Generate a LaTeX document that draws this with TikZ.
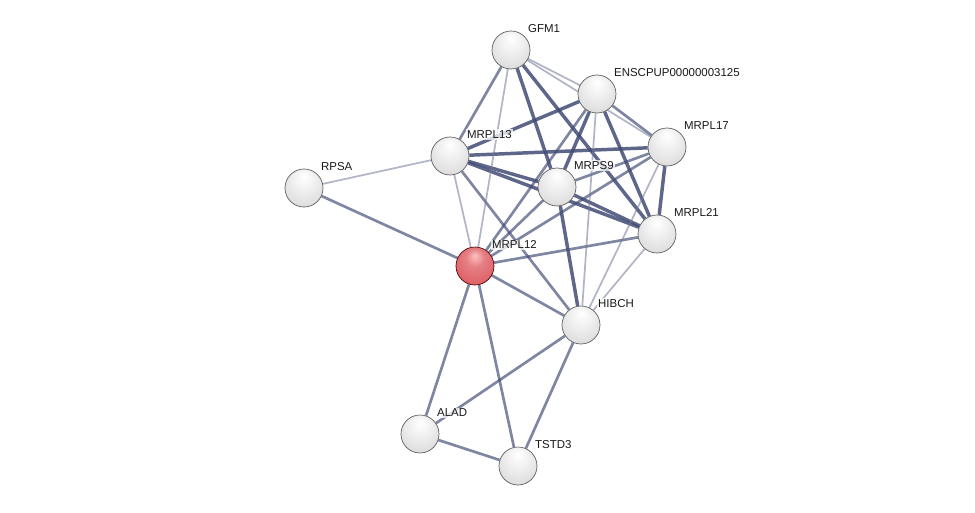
\documentclass[tikz,border=0pt]{standalone}
\usepackage{fontspec}
\setmainfont{Liberation Sans}
\usetikzlibrary{backgrounds}

\definecolor{linkcol}{RGB}{66,76,116}
\definecolor{qred}{RGB}{222,96,102}

% glossy protein balls
\pgfdeclareradialshading{protball}{\pgfpoint{0bp}{16bp}}{%
  color(0bp)=(white); color(10bp)=(white!96!black);
  color(28bp)=(gray!24); color(42bp)=(gray!42); color(50bp)=(gray!62)}
\pgfdeclareradialshading{queryball}{\pgfpoint{0bp}{14bp}}{%
  color(0bp)=(red!25!white); color(12bp)=(qred!80!white);
  color(30bp)=(qred); color(44bp)=(qred!85!black); color(50bp)=(qred!55!black)}

\tikzset{
  prot/.style={circle, minimum size=28.5pt, inner sep=0,
               draw=gray!70!black, line width=0.5pt, shading=protball},
  query prot/.style={prot, shading=queryball, draw=red!30!black},
  plbl/.style={font=\fontsize{8.6}{10}\selectfont, text=black!90,
               fill=white, fill opacity=0.75, text opacity=1,
               inner sep=1pt, label distance=2pt},
  strong link/.style={line width=2.6pt, draw=linkcol, draw opacity=0.85},
  mid link/.style={line width=2pt, draw=linkcol, draw opacity=0.68},
  weak link/.style={line width=1.3pt, draw=linkcol!75, draw opacity=0.55},
}

\begin{document}
\begin{tikzpicture}[x=0.75pt, y=-0.75pt]
  \useasboundingbox (0,0) rectangle (975,512);

  % ======== PROTEINS ========
  \foreach \n/\px/\py/\lab in {gfm1/511/50/GFM1,
      ensc/597/94/ENSCPUP00000003125, mrpl17/667/147/MRPL17,
      mrpl13/450/156/MRPL13, rpsa/304/188/RPSA, mrps9/557/187/MRPS9,
      mrpl21/657/234/MRPL21, hibch/581/325/HIBCH, alad/420/434/ALAD,
      tstd3/518/466/TSTD3} {
    \node[prot, label={[plbl]45:\lab}] (\n) at (\px,\py) {};
  }
  % query protein (highlighted)
  \node[query prot, label={[plbl]45:MRPL12}] (mrpl12) at (475,266) {};

  % ======== INTERACTIONS ========
  \begin{scope}[on background layer]
    % --- strong evidence ---
    \foreach \a/\b in {mrpl13/mrpl17, mrpl13/mrps9, mrpl13/mrpl21,
        mrps9/mrpl21, mrps9/hibch, mrpl17/mrpl21, ensc/mrpl21,
        gfm1/mrps9, gfm1/mrpl21, ensc/mrpl13, ensc/mrps9}
      \draw[strong link] (\a) -- (\b);

    % --- medium evidence ---
    \foreach \a/\b in {gfm1/mrpl13, ensc/mrpl17, mrpl17/mrps9,
        mrpl13/hibch, mrpl12/mrps9, mrpl12/ensc, mrpl12/mrpl17,
        mrpl12/mrpl21, mrpl12/hibch, mrpl12/rpsa, mrpl12/alad,
        mrpl12/tstd3, hibch/alad, hibch/tstd3, alad/tstd3}
      \draw[mid link] (\a) -- (\b);

    % --- weak evidence ---
    \foreach \a/\b in {rpsa/mrpl13, gfm1/mrpl12, ensc/hibch,
        mrpl17/hibch, mrpl21/hibch, mrpl13/mrpl12, gfm1/ensc,
        gfm1/mrpl17}
      \draw[weak link] (\a) -- (\b);
  \end{scope}
\end{tikzpicture}
\end{document}
